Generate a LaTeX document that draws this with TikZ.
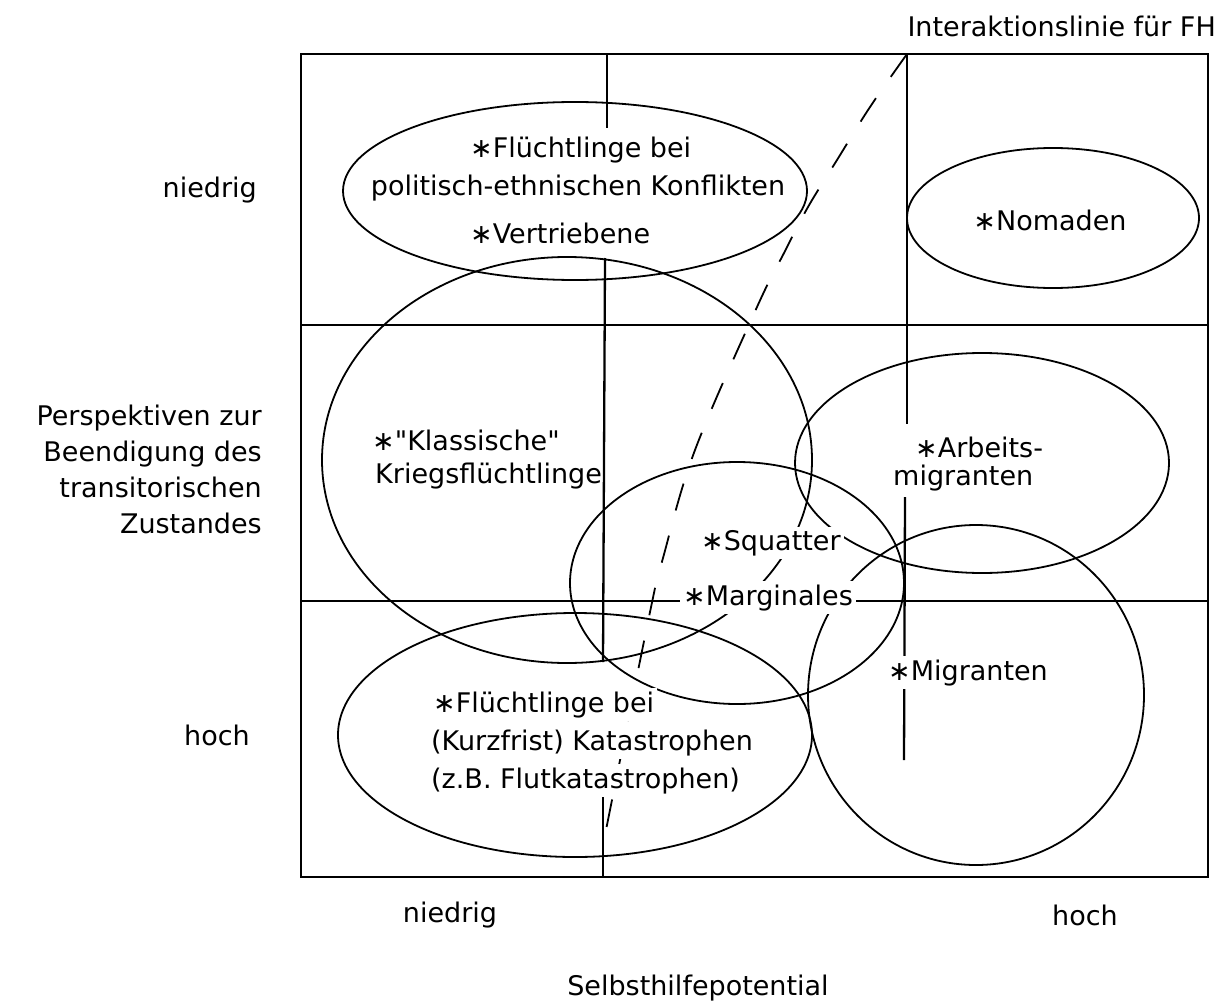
\documentclass[tikz,border=0pt]{standalone}
\usepackage{fontspec}
\setmainfont{DejaVu Sans}
\newfontfamily\plainq{DejaVu Sans}[Ligatures=TeXOff]
\begin{document}
\begin{tikzpicture}[x=1pt,y=-1pt,
  lbl/.style={font=\fontsize{27}{36}\selectfont, inner sep=0pt},
  wlbl/.style={lbl, fill=white, inner sep=3pt},
  gridline/.style={line width=2.3pt},
  oval/.style={line width=1.8pt},
  fhline/.style={line width=1.8pt, dash pattern=on 28pt off 26pt}]
\useasboundingbox (0,0) rectangle (1222,1003);
% grid
\draw[gridline] (301,54) rectangle (1208,877);
\draw[gridline] (301,325) -- (1208,325);
\draw[gridline] (301,601) -- (1208,601);
\draw[gridline] (607,54) -- (607,128);
\draw[gridline] (605,258) -- (603,662);
\draw[gridline] (603,793) -- (603,877);
\draw[gridline] (907,54) -- (907,424);
\draw[gridline] (905,497) -- (904,760);
% ovals
\draw[oval] (575,191) ellipse [x radius=232pt, y radius=89pt];
\draw[oval] (567,460) ellipse [x radius=245pt, y radius=203pt];
\draw[oval] (737,583) ellipse [x radius=167pt, y radius=121pt];
\draw[oval] (575,735) ellipse [x radius=237pt, y radius=122pt];
\draw[oval] (976,695) ellipse [x radius=168pt, y radius=170pt];
\draw[oval] (982,463) ellipse [x radius=187pt, y radius=110pt];
\draw[oval] (1053,218) ellipse [x radius=146pt, y radius=70pt];
% interaction line
\coordinate (fhtop) at (907,54);
\coordinate (fhbot) at (603,845);
\draw[fhline] plot[smooth, tension=0.6] coordinates {(fhtop) (870,107) (837,160) (808,207) (784,253) (757,307) (695,450) (663,558) (650,612) (fhbot)};
% axis labels
\node[lbl, anchor=base east] (fh) at (1216,37) {Interaktionslinie für FH};
\node[lbl, anchor=east] (ylow) at (257,190) {niedrig};
\node[lbl, anchor=east, align=right] (ytitle) at (262,469) {Perspektiven zur\\Beendigung des\\transitorischen\\Zustandes};
\node[lbl, anchor=east] (yhigh) at (250,735) {hoch};
\node[lbl] (xlow) at (450,915) {niedrig};
\node[lbl] (xhigh) at (1085,915) {hoch};
\node[lbl] (xtitle) at (698,988) {Selbsthilfepotential};
% texts in ovals
\node[lbl, anchor=base west] (pol1) at (470,158) {∗Flüchtlinge bei};
\node[lbl, anchor=base] (pol2) at (578,195) {politisch-ethnischen Konflikten};
\node[lbl, anchor=base west] (vert) at (470,243) {∗Vertriebene};
\node[lbl] (nom) at (1050,220) {∗Nomaden};
\node[lbl, anchor=base west] (kl1) at (372,450) {∗{\plainq"}Klassische{\plainq"}};
\node[lbl, anchor=base west] (kl2) at (375,483) {Kriegsflüchtlinge};
\node[wlbl, anchor=base west] (arb1) at (912,457) {∗Arbeits-};
\node[wlbl, anchor=base west] (arb2) at (890,485) {migranten};
\node[wlbl, anchor=base west] (squ) at (698,550) {∗Squatter};
\node[wlbl, anchor=base west] (mar) at (680,605) {∗Marginales};
\node[wlbl, anchor=base west] (mig) at (885,680) {∗Migranten};
\node[wlbl, anchor=base west] (kat1) at (430,712) {∗Flüchtlinge bei};
\node[wlbl, anchor=base west] (kat2) at (428,750) {(Kurzfrist) Katastrophen};
\node[wlbl, anchor=base west] (kat3) at (428,788) {(z.B. Flutkatastrophen)};
\end{tikzpicture}
\end{document}
